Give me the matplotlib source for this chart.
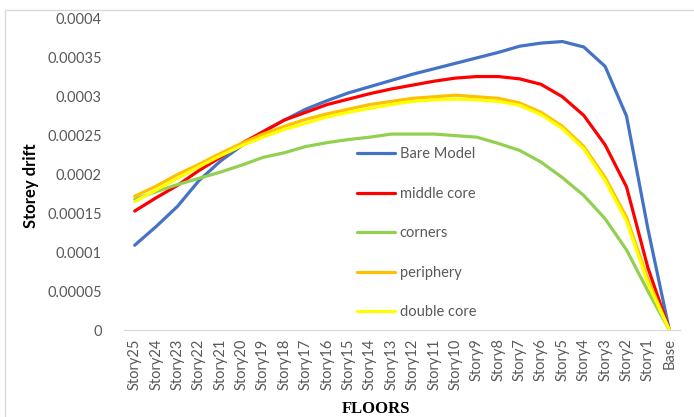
import matplotlib
matplotlib.use("Agg")
import matplotlib.pyplot as plt
from matplotlib.patches import Rectangle

floors = ["Story%d" % n for n in range(25, 0, -1)] + ["Base"]

bare_model = [0.000109, 0.000133, 0.000159, 0.000192, 0.000217, 0.000237, 0.000255, 0.00027,
              0.000284, 0.000295, 0.000305, 0.000313, 0.000321, 0.000329, 0.000336, 0.000343,
              0.00035, 0.000357, 0.000365, 0.000369, 0.000371, 0.000364, 0.000339, 0.000275,
              0.00013, 0.0]
middle_core = [0.000153, 0.00017, 0.000186, 0.000205, 0.000222, 0.00024, 0.000255, 0.00027,
               0.00028, 0.00029, 0.000297, 0.000304, 0.00031, 0.000315, 0.00032, 0.000324,
               0.000326, 0.000326, 0.000323, 0.000316, 0.0003, 0.000276, 0.000238, 0.000184,
               0.00008, 0.0]
corners = [0.000168, 0.000178, 0.000187, 0.000195, 0.000203, 0.000212, 0.000222, 0.000228,
           0.000236, 0.000241, 0.000245, 0.000248, 0.000252, 0.000252, 0.000252, 0.00025,
           0.000248, 0.00024, 0.000231, 0.000216, 0.000196, 0.000173, 0.000143, 0.000103,
           0.00005, 0.0]
periphery = [0.000172, 0.000185, 0.0002, 0.000213, 0.000227, 0.00024, 0.000252, 0.000262,
             0.000271, 0.000278, 0.000284, 0.00029, 0.000294, 0.000298, 0.0003, 0.000302,
             0.0003, 0.000298, 0.000292, 0.00028, 0.000262, 0.000236, 0.000196, 0.000145,
             0.000065, 0.0]
double_core = [0.000165, 0.00018, 0.000195, 0.00021, 0.000224, 0.000237, 0.000248, 0.000258,
               0.000266, 0.000274, 0.00028, 0.000285, 0.00029, 0.000294, 0.000296, 0.000297,
               0.000296, 0.000294, 0.000289, 0.000277, 0.000259, 0.000233, 0.000192, 0.00014,
               0.00006, 0.0]

series = [("Bare Model", bare_model, "#4472C4"),
          ("middle core", middle_core, "#FF0000"),
          ("corners", corners, "#92D050"),
          ("periphery", periphery, "#FFC000"),
          ("double core", double_core, "#FFFF00")]

yticks = [0, 0.00005, 0.0001, 0.00015, 0.0002, 0.00025, 0.0003, 0.00035, 0.0004]
ytick_labels = ["0", "0.00005", "0.0001", "0.00015", "0.0002", "0.00025", "0.0003", "0.00035", "0.0004"]

plt.rcParams["font.family"] = ["Lato", "DejaVu Sans"]
gray = "#595959"

fig = plt.figure(figsize=(6.94, 4.17), dpi=100)
ax = fig.add_axes([124 / 694, 1 - 330 / 417, 556 / 694, 311 / 417])

x = list(range(len(floors)))
for name, vals, col in series:
    ax.plot(x, vals, color=col, lw=2.3, label=name, solid_capstyle="round")

ax.set_xlim(-0.5, len(floors) - 0.5)
ax.set_ylim(0, 0.0004)
ax.set_yticks(yticks)
ax.set_yticklabels(ytick_labels)
ax.set_xticks(x)
ax.set_xticklabels(floors, rotation=90)
ax.tick_params(axis="y", length=0, pad=16, labelsize=10.5, labelcolor=gray)
ax.tick_params(axis="x", length=0, pad=6, labelsize=10.5, labelcolor=gray)

for s in ["top", "right", "left"]:
    ax.spines[s].set_visible(False)
ax.spines["bottom"].set_color("#D9D9D9")

ax.set_ylabel("Storey drift", fontsize=12, fontweight="bold", color="black")
ax.yaxis.set_label_coords(-0.153, 0.463)
ax.set_xlabel("FLOORS", family="Liberation Serif", fontsize=12, fontweight="bold")
ax.xaxis.set_label_coords(0.453, -0.228)

leg = ax.legend(loc="upper left", bbox_to_anchor=(0.396, 0.63), frameon=False, fontsize=10.5,
                labelspacing=1.75, handlelength=2.6, handletextpad=0.3)
for t in leg.get_texts():
    t.set_color(gray)

fig.patches.append(Rectangle((5 / 694, -0.01), 1.0, 1 - 10 / 417 + 0.01, transform=fig.transFigure,
                             fill=False, edgecolor="#D9D9D9", lw=1))

fig.savefig("out.png", dpi=100)
